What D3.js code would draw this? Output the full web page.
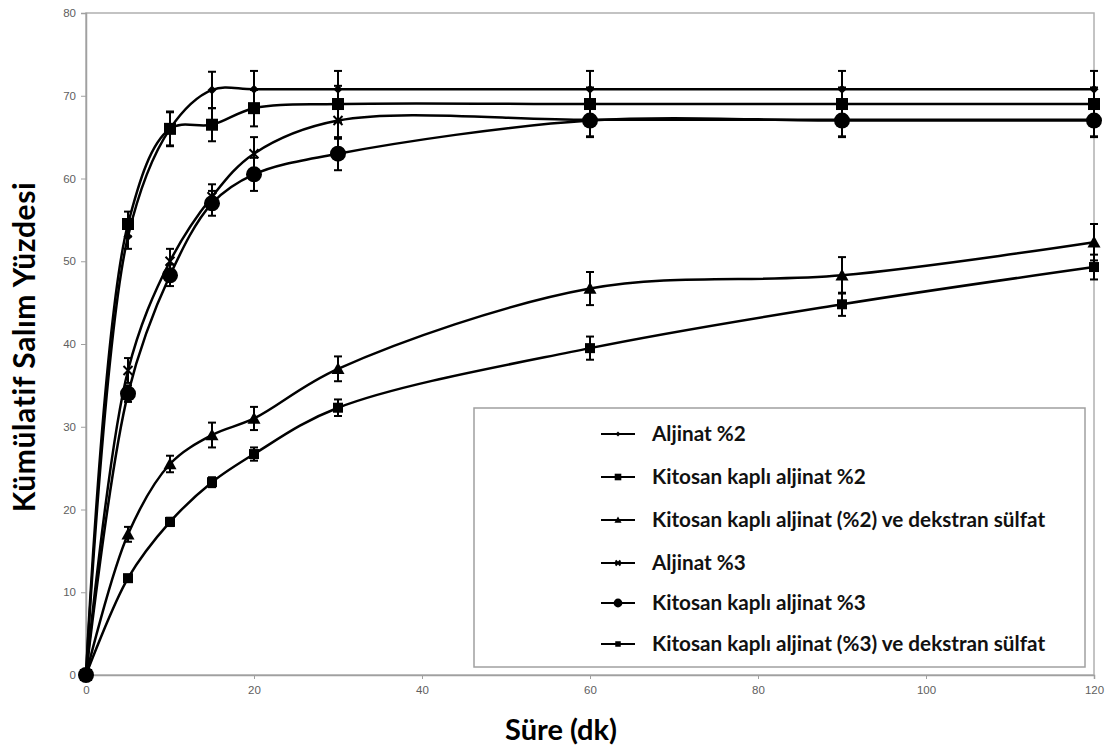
<!DOCTYPE html>
<html><head><meta charset="utf-8">
<script src="https://cdn.jsdelivr.net/npm/d3@7"></script>
<style>body{margin:0;background:#fff}svg{display:block}</style>
</head><body>
<svg id="c" width="1110" height="749"></svg>
<script>
const times = [0, 5, 10, 15, 20, 30, 60, 90, 120];
const seriesNames = [
  "Aljinat %2",
  "Kitosan kaplı aljinat %2",
  "Kitosan kaplı aljinat (%2) ve dekstran sülfat",
  "Aljinat %3",
  "Kitosan kaplı aljinat %3",
  "Kitosan kaplı aljinat (%3) ve dekstran sülfat"
];
const aljinat2 = [0, 53, 66, 70.7, 70.8, 70.8, 70.8, 70.8, 70.8];
const kitosan2 = [0, 54.5, 66, 66.5, 68.5, 69, 69, 69, 69];
const kitosanDS2 = [0, 17, 25.5, 29, 31, 37, 46.7, 48.3, 52.3];
const aljinat3 = [0, 36.8, 50, 57.8, 63, 67, 67.1, 67.1, 67.1];
const kitosan3 = [0, 34, 48.3, 57, 60.5, 63, 67, 67, 67];
const kitosanDS3 = [0, 11.7, 18.5, 23.3, 26.7, 32.3, 39.5, 44.8, 49.3];
const errAljinat2 = [0, 1.5, 2, 2.2, 2.2, 2.2, 2.2, 2.2, 2.2];
const errKitosan2 = [0, 1.5, 2.1, 2, 2.2, 2.2, 2, 2, 2];
const errKitosanDS2 = [0, 0.9, 1, 1.5, 1.4, 1.5, 2, 2.2, 2.2];
const errAljinat3 = [0, 1.5, 1.5, 1.5, 2, 2.2, 2, 2, 2];
const errKitosan3 = [0, 1, 1.3, 1.5, 2, 2, 2, 2, 2];
const errKitosanDS3 = [0, 0.4, 0.5, 0.6, 0.8, 1, 1.4, 1.4, 1.5];
const xTicks = [0, 20, 40, 60, 80, 100, 120];
const yTicks = [0, 10, 20, 30, 40, 50, 60, 70, 80];

const seriesValues = [aljinat2, kitosan2, kitosanDS2, aljinat3, kitosan3, kitosanDS3];
const seriesErr = [errAljinat2, errKitosan2, errKitosanDS2, errAljinat3, errKitosan3, errKitosanDS3];
const markerTypes = ["diamond", "square", "triangle", "x", "circle", "smallsquare"];

const svg = d3.select("#c");
const x = d3.scaleLinear().domain([0, 120]).range([86, 1094]);
const y = d3.scaleLinear().domain([0, 80]).range([675, 13]);

// frame
svg.append("rect").attr("x", 86).attr("y", 13).attr("width", 1094 - 86).attr("height", 675 - 13)
  .attr("fill", "none").attr("stroke", "#b0b0b0").attr("stroke-width", 1.5);

// y axis
const yAxis = d3.axisLeft(y).tickValues(yTicks).tickSize(5).tickPadding(5);
const gy = svg.append("g").attr("transform", "translate(86,0)").call(yAxis);
gy.select(".domain").attr("stroke", "#a0a0a0").attr("stroke-width", 1.5);
gy.selectAll(".tick line").attr("stroke", "#a0a0a0");
gy.selectAll(".tick text").attr("fill", "#606060").style("font-family", "Liberation Sans, Arial, sans-serif").style("font-size", "11.5px");

// x axis
const xAxis = d3.axisBottom(x).tickValues(xTicks).tickSize(4).tickPadding(7);
const gx = svg.append("g").attr("transform", "translate(0,675)").call(xAxis);
gx.select(".domain").attr("stroke", "#a0a0a0").attr("stroke-width", 1.5);
gx.selectAll(".tick line").attr("stroke", "#a0a0a0");
gx.selectAll(".tick text").attr("fill", "#606060").style("font-family", "Liberation Sans, Arial, sans-serif").style("font-size", "11.5px");

// titles
svg.append("text").attr("x", 561).attr("y", 740).attr("text-anchor", "middle")
  .style("font-family", "Lato, sans-serif").style("font-weight", "bold").style("font-size", "29px")
  .text("Süre (dk)");
svg.append("text").attr("transform", "translate(35,347) rotate(-90)").attr("text-anchor", "middle")
  .style("font-family", "Lato, sans-serif").style("font-weight", "bold").style("font-size", "30px")
  .style("letter-spacing", "0.6px")
  .text("Kümülatif Salım Yüzdesi");

function drawMarker(g, type, cx, cy, scale) {
  const s = scale || 1;
  if (type === "diamond") {
    const r = 4.5 * s;
    g.append("path").attr("d", `M${cx},${cy - r}L${cx + r},${cy}L${cx},${cy + r}L${cx - r},${cy}Z`).attr("fill", "#000");
  } else if (type === "square") {
    const r = 6 * s;
    g.append("rect").attr("x", cx - r).attr("y", cy - r).attr("width", 2 * r).attr("height", 2 * r).attr("fill", "#000");
  } else if (type === "triangle") {
    const r = 6.5 * s;
    g.append("path").attr("d", `M${cx},${cy - r}L${cx + r},${cy + r * 0.8}L${cx - r},${cy + r * 0.8}Z`).attr("fill", "#000");
  } else if (type === "x") {
    const r = 4.5 * s;
    g.append("path").attr("d", `M${cx - r},${cy - r}L${cx + r},${cy + r}M${cx - r},${cy + r}L${cx + r},${cy - r}`)
      .attr("stroke", "#000").attr("stroke-width", 2);
  } else if (type === "circle") {
    g.append("circle").attr("cx", cx).attr("cy", cy).attr("r", 8 * s).attr("fill", "#000");
  } else if (type === "smallsquare") {
    const r = 5 * s;
    g.append("rect").attr("x", cx - r).attr("y", cy - r).attr("width", 2 * r).attr("height", 2 * r).attr("fill", "#000");
  }
}

const line = d3.line().x(d => x(d[0])).y(d => y(d[1])).curve(d3.curveCatmullRom.alpha(0.5));

seriesValues.forEach((vals, i) => {
  const pts = times.map((t, j) => [t, vals[j]]);
  const g = svg.append("g");
  g.append("path").datum(pts).attr("d", line).attr("fill", "none").attr("stroke", "#000").attr("stroke-width", 2.5);
  times.forEach((t, j) => {
    const e = seriesErr[i][j];
    if (e <= 0) return;
    const cx = x(t), y1 = y(vals[j] + e), y2 = y(vals[j] - e);
    g.append("line").attr("x1", cx).attr("x2", cx).attr("y1", y1).attr("y2", y2).attr("stroke", "#000").attr("stroke-width", 2);
    [y1, y2].forEach(yy => g.append("line").attr("x1", cx - 4).attr("x2", cx + 4).attr("y1", yy).attr("y2", yy).attr("stroke", "#000").attr("stroke-width", 2));
  });
  times.forEach((t, j) => drawMarker(g, markerTypes[i], x(t), y(vals[j])));
});

// legend
svg.append("rect").attr("x", 474).attr("y", 408).attr("width", 611).attr("height", 259)
  .attr("fill", "#fff").attr("stroke", "#a0a0a0").attr("stroke-width", 1.5);
const legY = [434, 477, 520, 563, 603, 644];
seriesNames.forEach((name, i) => {
  const ly = legY[i];
  svg.append("line").attr("x1", 601).attr("x2", 635).attr("y1", ly).attr("y2", ly).attr("stroke", "#000").attr("stroke-width", 2);
  drawMarker(svg, markerTypes[i], 618, ly, 0.55);
  svg.append("text").attr("x", 652).attr("y", ly + 7)
    .style("font-family", "Lato, sans-serif").style("font-weight", "bold").style("font-size", "20.7px")
    .attr("fill", "#111").text(name);
});
</script>
</body></html>
